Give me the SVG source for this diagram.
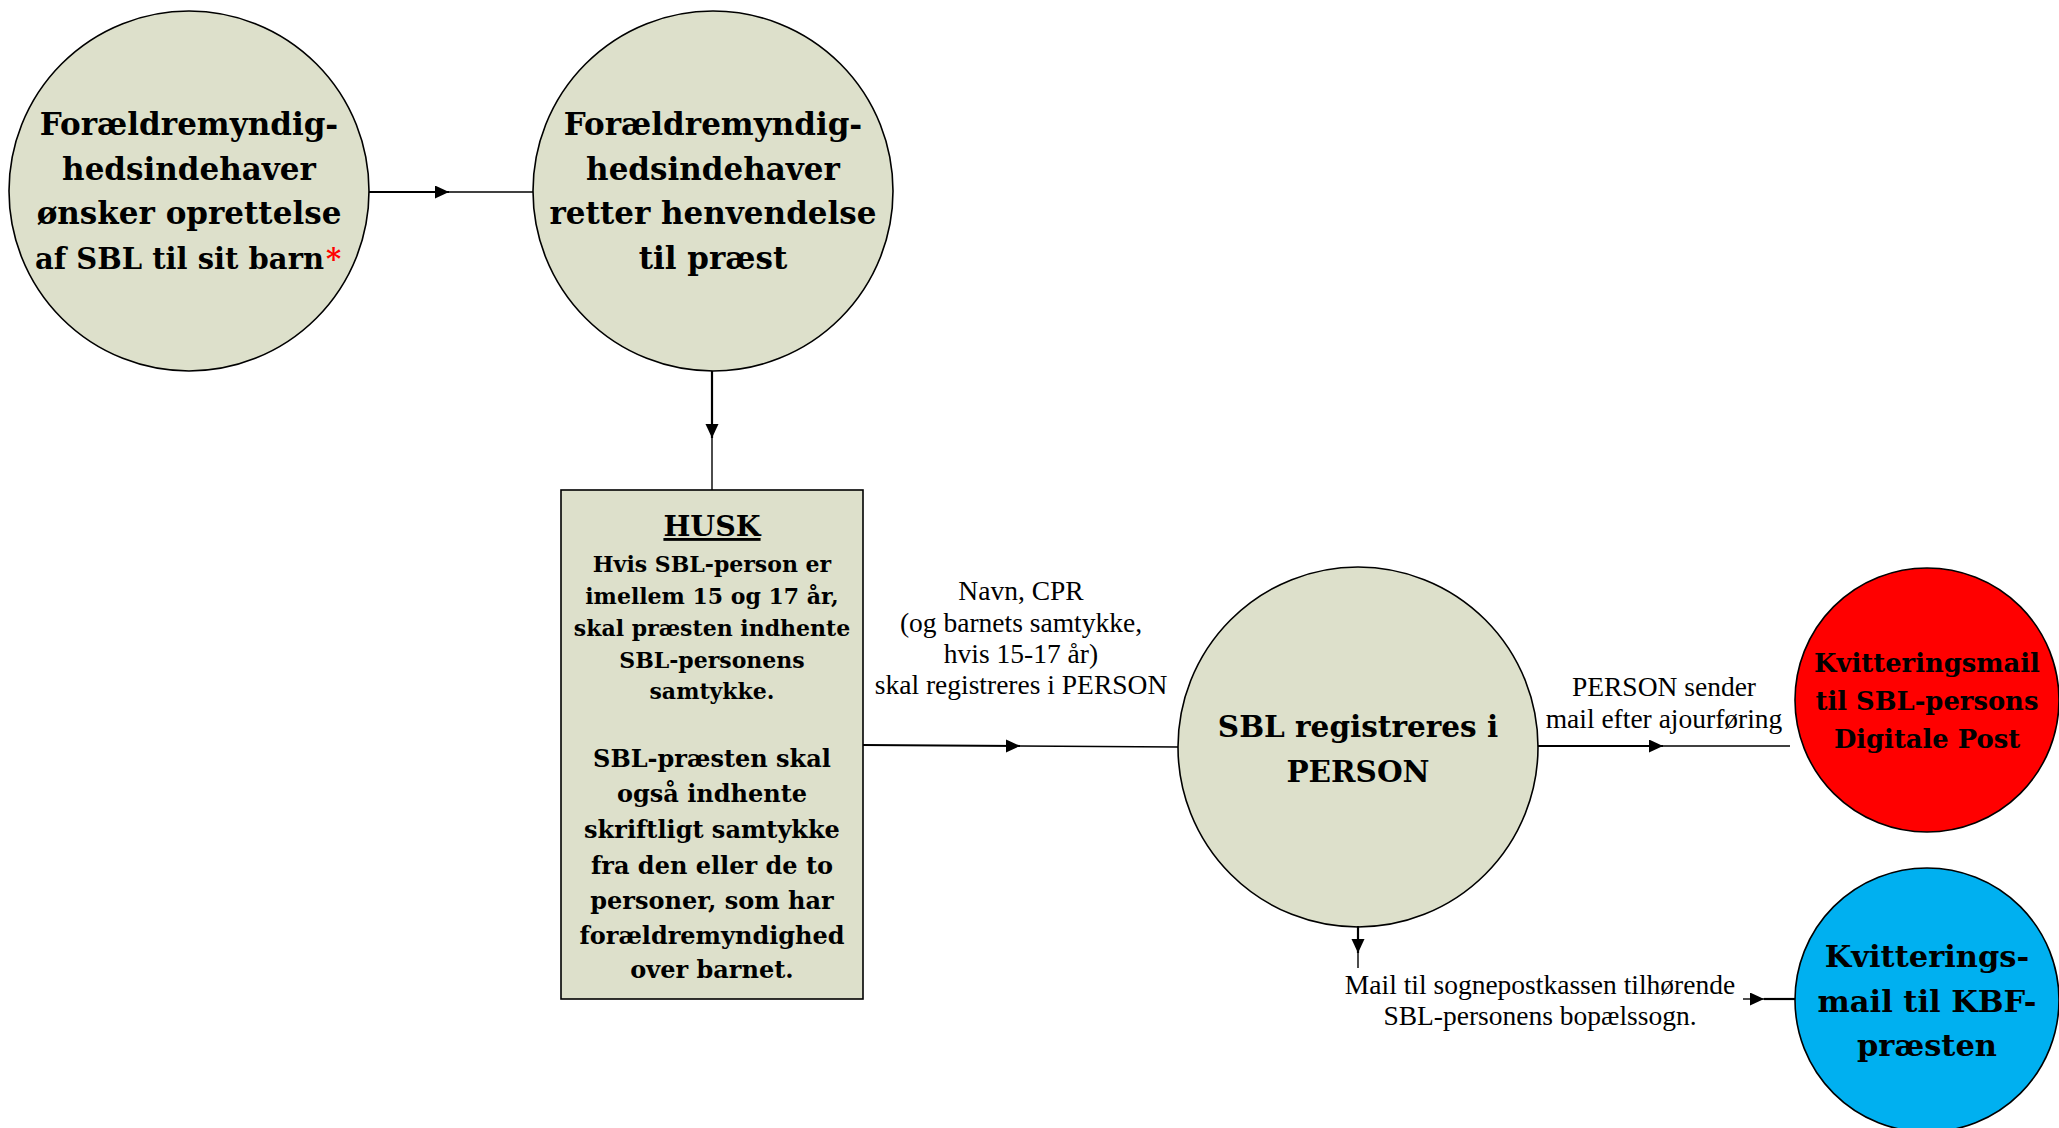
<svg xmlns="http://www.w3.org/2000/svg" width="2059" height="1128" viewBox="0 0 2059 1128">
<defs>
<style>
.node{fill:#DDE0CB;stroke:#000;stroke-width:1.6}
.red{fill:#FF0000;stroke:#000;stroke-width:1.6}
.blue{fill:#00B0F0;stroke:#000;stroke-width:1.6}
.b{font-family:"DejaVu Serif","Liberation Serif",serif;font-weight:bold;text-anchor:middle;fill:#000}
.r{font-family:"Liberation Serif",serif;font-size:27.5px;text-anchor:middle;fill:#000}
.thick{stroke:#000;stroke-width:2.2;fill:none}
.thin{stroke:#000;stroke-width:1.4;fill:none}
</style>
<marker id="ah" markerUnits="userSpaceOnUse" markerWidth="15" markerHeight="14" refX="14" refY="6.5" orient="auto">
<path d="M0,0 L14,6.5 L0,13 z" fill="#000"/>
</marker>
</defs>
<rect width="2059" height="1128" fill="#fff"/>

<g id="n1">
<circle class="node" cx="189" cy="191" r="180"/>
<text class="b" font-size="31" x="189" y="135">Forældremyndig-</text>
<text class="b" font-size="31" x="189" y="180">hedsindehaver</text>
<text class="b" font-size="31" x="189" y="224">ønsker oprettelse</text>
<text class="b" font-size="29" x="324" y="269" style="text-anchor:end">af SBL til sit barn</text>
<text class="b" font-size="29" x="326" y="269" fill="#FF0000" style="text-anchor:start;fill:#FF0000">*</text>
</g>

<g id="n2">
<circle class="node" cx="713" cy="191" r="180"/>
<text class="b" font-size="31" x="713" y="135">Forældremyndig-</text>
<text class="b" font-size="31" x="713" y="180">hedsindehaver</text>
<text class="b" font-size="31" x="713" y="224">retter henvendelse</text>
<text class="b" font-size="31" x="713" y="269">til præst</text>
</g>

<g id="n3">
<rect class="node" x="561" y="490" width="302" height="509"/>
<text class="b" font-size="28.5" x="712" y="536" text-decoration="underline">HUSK</text>
<text class="b" font-size="22" x="712" y="572">Hvis SBL-person er</text>
<text class="b" font-size="22" x="712" y="604">imellem 15 og 17 år,</text>
<text class="b" font-size="22" x="712" y="636">skal præsten indhente</text>
<text class="b" font-size="22" x="712" y="668">SBL-personens</text>
<text class="b" font-size="22" x="712" y="699">samtykke.</text>
<text class="b" font-size="24" x="712" y="767">SBL-præsten skal</text>
<text class="b" font-size="24" x="712" y="802">også indhente</text>
<text class="b" font-size="24" x="712" y="838">skriftligt samtykke</text>
<text class="b" font-size="24" x="712" y="874">fra den eller de to</text>
<text class="b" font-size="24" x="712" y="909">personer, som har</text>
<text class="b" font-size="24" x="712" y="944">forældremyndighed</text>
<text class="b" font-size="24" x="712" y="978">over barnet.</text>
</g>

<g id="n4">
<circle class="node" cx="1358" cy="747" r="180"/>
<text class="b" font-size="29.5" x="1358" y="737">SBL registreres i</text>
<text class="b" font-size="29.5" x="1358" y="782">PERSON</text>
</g>

<g id="n5">
<circle class="red" cx="1927" cy="700" r="132"/>
<text class="b" font-size="25.8" x="1927" y="672">Kvitteringsmail</text>
<text class="b" font-size="25.8" x="1927" y="710">til SBL-persons</text>
<text class="b" font-size="25.8" x="1927" y="748">Digitale Post</text>
</g>

<g id="n6">
<circle class="blue" cx="1927" cy="1000" r="132"/>
<text class="b" font-size="30.5" x="1927" y="967">Kvitterings-</text>
<text class="b" font-size="30.5" x="1927" y="1012">mail til KBF-</text>
<text class="b" font-size="30.5" x="1927" y="1056">præsten</text>
</g>

<g id="connectors">
<path class="thick" d="M369,192 L449,192" marker-end="url(#ah)"/>
<path class="thin" d="M449,192 L533,192"/>
<path class="thick" d="M712,371 L712,438" marker-end="url(#ah)"/>
<path class="thin" d="M712,438 L712,490"/>
<path class="thick" d="M863,745 L1020,746" marker-end="url(#ah)"/>
<path class="thin" d="M1020,746 L1178,747"/>
<path class="thick" d="M1538,746 L1663,746" marker-end="url(#ah)"/>
<path class="thin" d="M1663,746 L1790,746"/>
<path class="thick" d="M1358,926 L1358,953" marker-end="url(#ah)"/>
<path class="thin" d="M1358,953 L1358,968"/>
<path class="thin" d="M1743,999 L1764,999" marker-end="url(#ah)"/>
<path class="thick" d="M1764,999 L1795,999"/>
<text class="r" x="1021" y="600">Navn, CPR</text>
<text class="r" x="1021" y="632">(og barnets samtykke,</text>
<text class="r" x="1021" y="663">hvis 15-17 år)</text>
<text class="r" x="1021" y="694">skal registreres i PERSON</text>
<text class="r" x="1664" y="696" font-size="28">PERSON sender</text>
<text class="r" x="1664" y="728" font-size="28">mail efter ajourføring</text>
<text class="r" x="1540" y="994" font-size="28.3">Mail til sognepostkassen tilhørende</text>
<text class="r" x="1540" y="1025" font-size="28.3">SBL-personens bopælssogn.</text>
</g>
</svg>
